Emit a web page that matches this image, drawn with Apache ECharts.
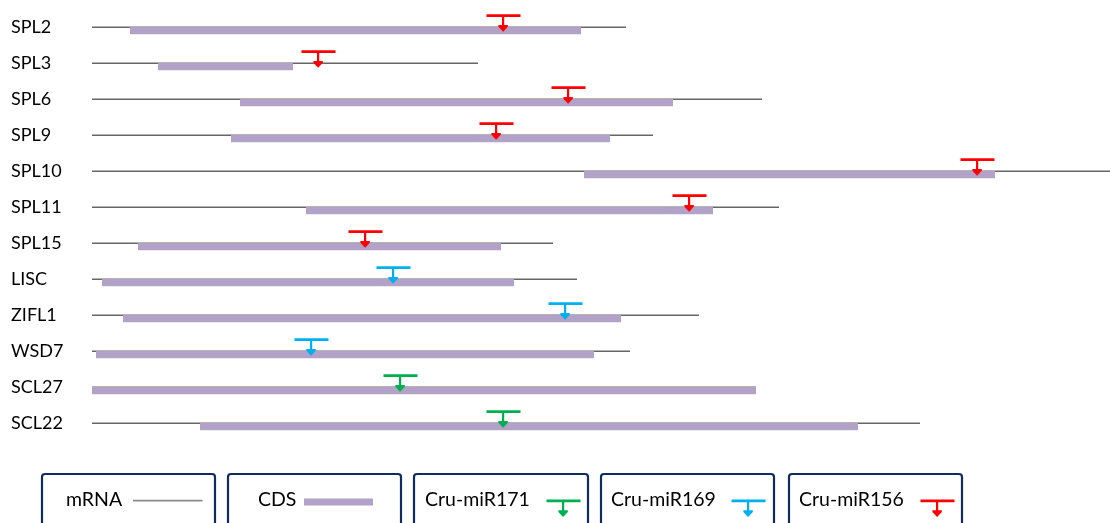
<!DOCTYPE html>
<html>
<head>
<meta charset="utf-8">
<script src="https://cdn.jsdelivr.net/npm/echarts@6/dist/echarts.min.js"></script>
<style>
html,body{margin:0;padding:0;background:#fff;}
#chart{width:1110px;height:523px;}
</style>
</head>
<body>
<div id="chart"></div>
<script>
// ---- data (positions along the transcript, in chart units) ----
const genes     = ['SPL2','SPL3','SPL6','SPL9','SPL10','SPL11','SPL15','LISC','ZIFL1','WSD7','SCL27','SCL22'];
const mrnaStart = [0, 0, 0, 0, 0, 0, 0, 0, 0, 0, 0, 0];
const mrnaEnd   = [534, 386, 670, 561, 1018, 687, 461, 485, 607, 538, 664, 828];
const cdsStart  = [38, 66, 148, 139, 492, 214, 46, 10, 31, 4, 0, 108];
const cdsEnd    = [489, 201, 581, 518, 903, 621, 409, 422, 529, 502, 664, 766];
const siteMir   = ['Cru-miR156','Cru-miR156','Cru-miR156','Cru-miR156','Cru-miR156','Cru-miR156','Cru-miR156',
                   'Cru-miR169','Cru-miR169','Cru-miR169','Cru-miR171','Cru-miR171'];
const sitePos   = [411, 226, 476, 404, 885, 597, 273, 301, 473, 219, 308, 411];
const mirNames  = ['Cru-miR171','Cru-miR169','Cru-miR156'];
const axisMax   = 1018;

// ---- styles ----
const FONT = 'Lato, "Liberation Sans", sans-serif';
const mirColors = {'Cru-miR171':'#00b050','Cru-miR169':'#00b0f0','Cru-miR156':'#ff0000'};
const mrnaColor = '#666666';
const cdsColor = '#b3a2c7';
const boxColor = '#0f2b60';

function markerShapes(x, y, color) {
  // T-shaped target marker with arrow pointing down to (x, y)
  return [
    {type:'rect', shape:{x:x-16.5, y:y-13, width:34, height:2.8}, style:{fill:color}},
    {type:'rect', shape:{x:x-1, y:y-11, width:2.2, height:10}, style:{fill:color}},
    {type:'polygon', shape:{points:[[x-4.6,y-2.2],[x+4.8,y-2.2],[x+4.8,y-0.6],[x+0.1,y+4.4],[x-4.6,y-0.6]]}, style:{fill:color}}
  ];
}

const mrnaData = genes.map((g,i)=>[mrnaStart[i], mrnaEnd[i], i]);
const cdsData = genes.map((g,i)=>[cdsStart[i], cdsEnd[i], i]);

const series = [
  {
    name:'mRNA', type:'custom', data:mrnaData, z:1,
    renderItem:function(params, api){
      const a = api.coord([api.value(0), api.value(2)]);
      const b = api.coord([api.value(1), api.value(2)]);
      return {type:'line', shape:{x1:a[0], y1:a[1], x2:b[0], y2:b[1]},
              style:{stroke:mrnaColor, lineWidth:1.6}};
    }
  },
  {
    name:'CDS', type:'custom', data:cdsData, z:2,
    renderItem:function(params, api){
      const a = api.coord([api.value(0), api.value(2)]);
      const b = api.coord([api.value(1), api.value(2)]);
      return {type:'rect', shape:{x:a[0], y:a[1]-0.4, width:b[0]-a[0], height:7.4},
              style:{fill:cdsColor}};
    }
  }
];
mirNames.forEach(function(m){
  const d = [];
  genes.forEach((g,i)=>{ if (siteMir[i]===m) d.push([sitePos[i], i]); });
  series.push({
    name:m, type:'custom', data:d, z:3,
    renderItem:function(params, api){
      const p = api.coord([api.value(0), api.value(1)]);
      return {type:'group', children:markerShapes(p[0], p[1], mirColors[m])};
    }
  });
});

// ---- legend boxes (decoration) ----
const legendItems = [
  {label:'mRNA', box:[42,215], textX:66, sym:'line', symX:[133,202.5]},
  {label:'CDS', box:[228,401], textX:258, sym:'bar', symX:[304,373]},
  {label:'Cru-miR171', box:[414,588], textX:425, sym:'mir', symX:563},
  {label:'Cru-miR169', box:[601,774], textX:611, sym:'mir', symX:748},
  {label:'Cru-miR156', box:[789,962], textX:799, sym:'mir', symX:937}
];
const graphics = [];
legendItems.forEach(function(it){
  graphics.push({type:'rect', shape:{x:it.box[0], y:474, width:it.box[1]-it.box[0], height:70, r:3},
    style:{fill:'none', stroke:boxColor, lineWidth:2.2}, z:10});
  graphics.push({type:'text', x:it.textX, y:500, style:{text:it.label, font:'19.5px '+FONT, fill:'#000', textVerticalAlign:'middle', verticalAlign:'middle'}, z:10});
  if (it.sym==='line') {
    graphics.push({type:'line', shape:{x1:it.symX[0], y1:500.6, x2:it.symX[1], y2:500.6}, style:{stroke:'#8a8a8a', lineWidth:1.6}, z:10});
  } else if (it.sym==='bar') {
    graphics.push({type:'rect', shape:{x:it.symX[0], y:498.6, width:it.symX[1]-it.symX[0], height:6.8}, style:{fill:cdsColor}, z:10});
  } else {
    markerShapes(it.symX, 512.5, mirColors[it.label]).forEach(function(s){ s.z = 10; graphics.push(s); });
  }
});

const chart = echarts.init(document.getElementById('chart'), null, {renderer:'canvas'});
chart.setOption({
  animation:false,
  backgroundColor:'#ffffff',
  grid:{left:92, right:0, top:9.3, bottom:81.7},
  xAxis:{type:'value', min:0, max:axisMax, show:false},
  yAxis:{type:'category', data:genes, inverse:true,
    axisLine:{show:false}, axisTick:{show:false}, splitLine:{show:false},
    axisLabel:{align:'left', margin:81, fontSize:18, fontFamily:FONT, color:'#000'}},
  series:series,
  graphic:graphics
});
</script>
</body>
</html>
